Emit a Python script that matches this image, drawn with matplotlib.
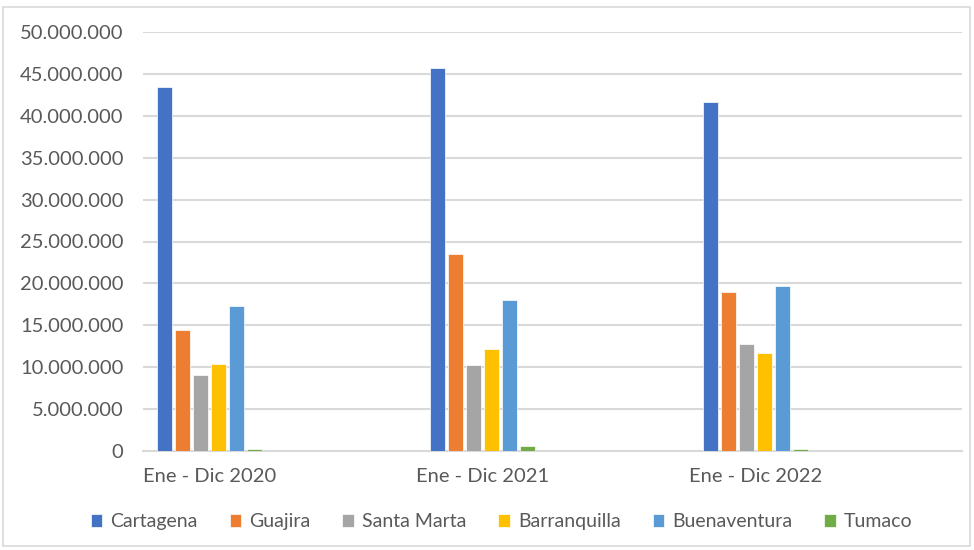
import matplotlib
matplotlib.use("Agg")
import matplotlib.pyplot as plt
import numpy as np
from matplotlib.patches import Rectangle
from matplotlib.ticker import FuncFormatter, MultipleLocator

periods = ["Ene - Dic 2020", "Ene - Dic 2021", "Ene - Dic 2022"]
ports = ["Cartagena", "Guajira", "Santa Marta", "Barranquilla", "Buenaventura", "Tumaco"]
cartagena = [43_450_000, 45_700_000, 41_650_000]
guajira = [14_450_000, 23_550_000, 19_000_000]
santa_marta = [9_100_000, 10_250_000, 12_750_000]
barranquilla = [10_400_000, 12_150_000, 11_700_000]
buenaventura = [17_300_000, 18_000_000, 19_650_000]
tumaco = [250_000, 550_000, 250_000]
colors = ["#4472C4", "#ED7D31", "#A5A5A5", "#FFC000", "#5B9BD5", "#70AD47"]

series = [cartagena, guajira, santa_marta, barranquilla, buenaventura, tumaco]

plt.rcParams['font.family'] = ['Lato', 'DejaVu Sans']
text_col = "#595959"
grid_col = "#D9D9D9"

fig = plt.figure(figsize=(9.74, 5.5), dpi=100)
ax = fig.add_axes([143 / 974, 1 - 451 / 550, (962 - 143) / 974, (451 - 32) / 550])

# bar geometry inside each category slot (slot width = 1)
pitch = 18 / 273
width = 15 / 273
first = 14 / 273
x = np.arange(len(periods))
for i, (vals, name, c) in enumerate(zip(series, ports, colors)):
    ax.bar(x + first + i * pitch, vals, width=width, align='edge', color=c,
           edgecolor='white', linewidth=0.5, label=name, zorder=3)

centre = first + (len(ports) * pitch - (pitch - width)) / 2
ax.set_xticks(x + centre)
ax.set_xticklabels(periods)
ax.set_xlim(0, 3)
ax.set_ylim(0, 50_000_000)
ax.yaxis.set_major_locator(MultipleLocator(5_000_000))
ax.yaxis.set_major_formatter(FuncFormatter(lambda v, p: f"{int(v):,}".replace(",", ".")))

ax.grid(axis='y', color=grid_col, linewidth=1.5, zorder=0)
for s in ['top', 'right', 'left']:
    ax.spines[s].set_visible(False)
ax.spines['bottom'].set_color(grid_col)
ax.spines['bottom'].set_linewidth(1.5)
ax.tick_params(axis='both', length=0, labelsize=14.5, labelcolor=text_col)
ax.tick_params(axis='y', pad=14)
ax.tick_params(axis='x', pad=12)

ax.legend(loc='center', bbox_to_anchor=(0.515, 0.051), bbox_transform=fig.transFigure,
          ncol=6, frameon=False, fontsize=14, labelcolor=text_col,
          handlelength=0.6, handleheight=0.6, handletextpad=0.4, columnspacing=1.65)

fig.patches.append(Rectangle((3 / 974, 4 / 550), 967 / 974, 539 / 550,
                             transform=fig.transFigure, fill=False,
                             edgecolor=grid_col, linewidth=1.2))

fig.savefig("out.png", dpi=100)
